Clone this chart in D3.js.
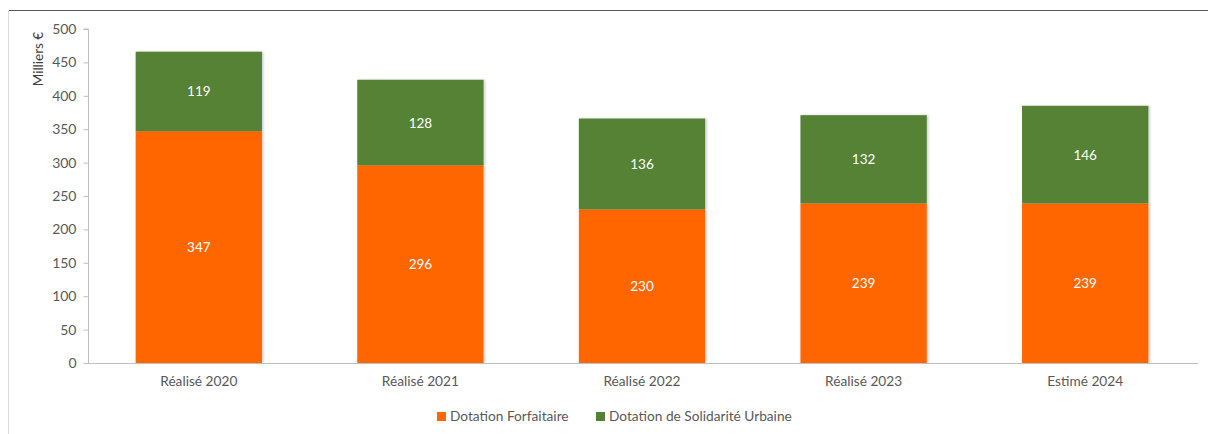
<!DOCTYPE html>
<html>
<head>
<meta charset="utf-8">
<script src="https://cdn.jsdelivr.net/npm/d3@7"></script>
<style>
  body { margin: 0; background: #fff; }
  text { font-family: Lato, "Open Sans", sans-serif; }
</style>
</head>
<body>
<svg></svg>
<script>
const categories = [ 'Réalisé 2020', 'Réalisé 2021', 'Réalisé 2022', 'Réalisé 2023', 'Estimé 2024' ]
const forfaitaire = [ 347, 296, 230, 239, 239 ]
const solidarite = [ 119, 128, 136, 132, 146 ]
const yTicks = [ 0, 50, 100, 150, 200, 250, 300, 350, 400, 450, 500 ]
const seriesNames = [ 'Dotation Forfaitaire', 'Dotation de Solidarité Urbaine' ]
const colors = [ '#ff6600', '#548235' ]

const WIDTH = 1208, HEIGHT = 434
const svg = d3.select( 'svg' ).attr( 'width', WIDTH ).attr( 'height', HEIGHT )

// cadre du graphique
svg.append( 'line' ).attr( 'x1', 8 ).attr( 'x2', WIDTH ).attr( 'y1', 10.5 ).attr( 'y2', 10.5 )
	.attr( 'stroke', '#595959' ).attr( 'stroke-width', 1.2 )
svg.append( 'line' ).attr( 'x1', 8.5 ).attr( 'x2', 8.5 ).attr( 'y1', 10 ).attr( 'y2', HEIGHT )
	.attr( 'stroke', '#d9d9d9' )

const x = d3.scaleBand().domain( categories ).range( [ 88, 1196 ] ).paddingInner( 0.43 ).paddingOuter( 0.215 )
const y = d3.scaleLinear().domain( [ 0, 500 ] ).range( [ 363, 29 ] )

const rows = categories.map( ( c, i ) => ( { cat: c, f: forfaitaire[i], s: solidarite[i] } ) )
const stacked = d3.stack().keys( [ 'f', 's' ] )( rows )

// axe Y
const gy = svg.append( 'g' ).attr( 'transform', 'translate(88.5,0)' )
	.call( d3.axisLeft( y ).tickValues( yTicks ).tickSize( 5 ).tickPadding( 7 ) )
gy.select( '.domain' ).attr( 'stroke', '#bfbfbf' ).attr( 'd', `M-5,${y( 500 )}H0V${y( 0 )}` )
gy.selectAll( '.tick line' ).attr( 'stroke', '#bfbfbf' )
gy.selectAll( '.tick text' ).attr( 'fill', '#595959' ).style( 'font-size', '14px' )

svg.append( 'text' ).attr( 'transform', `translate(43, ${( y( 500 ) + y( 410 ) ) / 2}) rotate(-90)` )
	.attr( 'text-anchor', 'middle' ).attr( 'fill', '#404040' ).style( 'font-size', '13.5px' )
	.text( 'Milliers €' )

// barres
const shadow = svg.append( 'defs' ).append( 'filter' ).attr( 'id', 'sh' )
	.attr( 'x', '-5%' ).attr( 'y', '-5%' ).attr( 'width', '115%' ).attr( 'height', '115%' )
shadow.append( 'feDropShadow' ).attr( 'dx', 1.5 ).attr( 'dy', 0 ).attr( 'stdDeviation', 1.2 )
	.attr( 'flood-color', '#000' ).attr( 'flood-opacity', 0.2 )

stacked.forEach( ( layer, k ) => {
	svg.append( 'g' ).selectAll( 'rect' ).data( layer ).join( 'rect' )
		.attr( 'x', d => x( d.data.cat ) )
		.attr( 'width', x.bandwidth() )
		.attr( 'y', d => y( d[1] ) )
		.attr( 'height', d => y( d[0] ) - y( d[1] ) )
		.attr( 'fill', colors[k] )
		.attr( 'filter', 'url(#sh)' )
	svg.append( 'g' ).selectAll( 'text' ).data( layer ).join( 'text' )
		.attr( 'x', d => x( d.data.cat ) + x.bandwidth() / 2 )
		.attr( 'y', d => ( y( d[0] ) + y( d[1] ) ) / 2 + 5 )
		.attr( 'text-anchor', 'middle' ).attr( 'fill', '#fff' ).style( 'font-size', '13.5px' )
		.text( d => d[1] - d[0] )
} )

// axe X
const gx = svg.append( 'g' ).attr( 'transform', `translate(0, ${y( 0 ) + 0.5})` )
	.call( d3.axisBottom( x ).tickSize( 0 ).tickPadding( 13 ) )
gx.select( '.domain' ).attr( 'stroke', '#bfbfbf' ).attr( 'd', 'M88,0H1198' )
gx.selectAll( '.tick text' ).attr( 'fill', '#595959' ).style( 'font-size', '13.7px' )

// légende
const legendX = [ 437, 596 ]
seriesNames.forEach( ( name, i ) => {
	const lg = svg.append( 'g' ).attr( 'transform', `translate(${legendX[i]}, 416)` )
	lg.append( 'rect' ).attr( 'x', 0 ).attr( 'y', -4 ).attr( 'width', 9 ).attr( 'height', 9 ).attr( 'fill', colors[i] )
	lg.append( 'text' ).attr( 'x', 13 ).attr( 'y', 5 ).attr( 'fill', '#595959' ).style( 'font-size', '13.7px' ).text( name )
} )
</script>
</body>
</html>
